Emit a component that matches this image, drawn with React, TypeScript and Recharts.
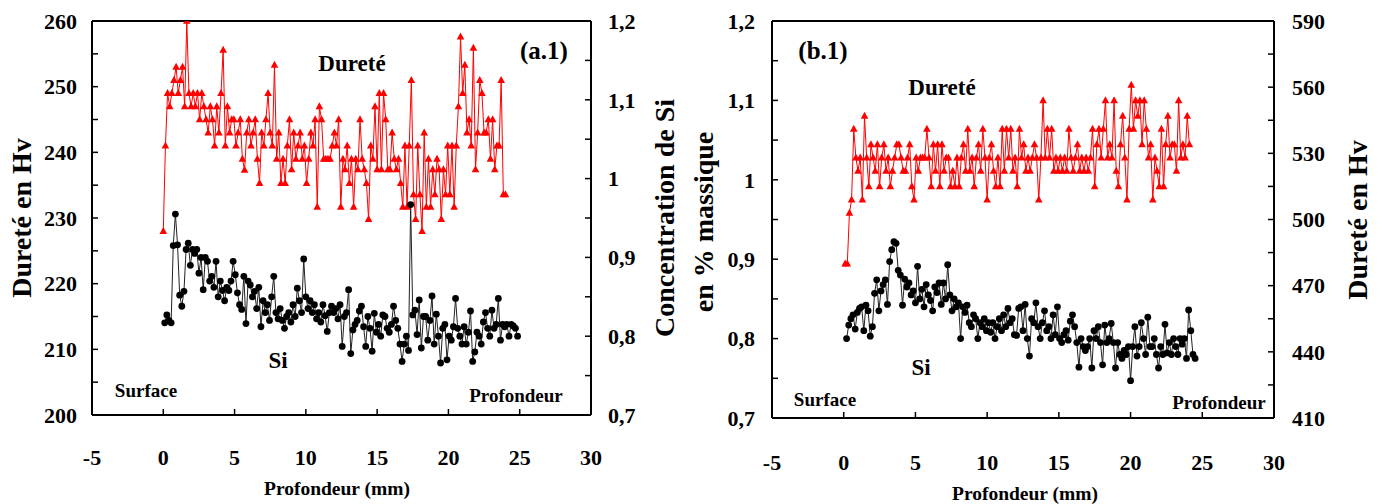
import React from 'react'
import { LineChart, Line, XAxis, YAxis, ReferenceLine } from 'recharts'

const FONT = '"Liberation Serif", "DejaVu Serif", serif'

// axis ticks
const depthTicks = [-5, 0, 5, 10, 15, 20, 25, 30]
const hvTicksA = [200, 205, 210, 215, 220, 225, 230, 235, 240, 245, 250, 255, 260]
const siTicks = [0.7, 0.75, 0.8, 0.85, 0.9, 0.95, 1, 1.05, 1.1, 1.15, 1.2]
const hvTicksB = [410, 425, 440, 455, 470, 485, 500, 515, 530, 545, 560, 575, 590]

// measurement step along the depth (mm)
const STEP = 0.15

// (a.1) hardness, Hv
const hvStartA = 0
const hvA = [228, 241, 249, 247, 249, 251, 253, 249, 251, 253, 247, 260, 249, 247, 249, 247, 249, 245, 249, 247, 245, 243, 247, 245, 241, 247, 243, 249, 255.6, 241, 247, 243, 245, 245, 241, 243, 245, 239, 237.3, 243, 245, 241, 243, 245, 239, 235.3, 243, 241, 245, 249, 243, 241, 253.3, 239, 243, 235.3, 239, 235.3, 241, 245, 237.4, 243, 239, 241, 243, 239, 241, 235.3, 239, 243, 241, 245, 231.7, 247, 245, 239, 239, 239, 239, 241, 243, 241, 245, 231.7, 239, 237.4, 241, 235.3, 239, 231.7, 239, 237.4, 245, 239, 237.4, 235.3, 229.8, 241, 239, 247, 237.4, 249, 237.4, 249, 245, 237.4, 237.4, 243, 239, 237.4, 239, 235.3, 231.7, 241, 231.7, 241, 251, 233.6, 229.8, 241, 233.6, 228, 243, 231.7, 239, 231.7, 237.4, 233.6, 239, 237.4, 229.8, 237.4, 233.6, 241, 233.6, 241, 231.7, 241, 247, 257.6, 249, 253.3, 243, 245, 241, 255.9, 237.4, 243, 251, 249, 243, 243, 245, 239, 245, 237.4, 241, 241, 251, 233.6, 233.6]

// (a.1) Si, % massique
const siStartA = 0.1
const siA = [0.817, 0.827, 0.82, 0.817, 0.915, 0.955, 0.916, 0.852, 0.838, 0.857, 0.91, 0.918, 0.89, 0.91, 0.905, 0.91, 0.88, 0.9, 0.859, 0.9, 0.895, 0.87, 0.876, 0.862, 0.895, 0.85, 0.87, 0.858, 0.845, 0.862, 0.858, 0.87, 0.895, 0.878, 0.855, 0.84, 0.834, 0.876, 0.816, 0.87, 0.865, 0.85, 0.857, 0.835, 0.862, 0.812, 0.845, 0.83, 0.84, 0.82, 0.85, 0.876, 0.83, 0.822, 0.835, 0.82, 0.81, 0.825, 0.83, 0.818, 0.84, 0.825, 0.861, 0.845, 0.83, 0.898, 0.85, 0.835, 0.845, 0.83, 0.84, 0.822, 0.83, 0.818, 0.84, 0.826, 0.806, 0.83, 0.838, 0.83, 0.835, 0.822, 0.84, 0.787, 0.825, 0.83, 0.859, 0.778, 0.808, 0.815, 0.82, 0.832, 0.838, 0.812, 0.787, 0.825, 0.81, 0.781, 0.829, 0.805, 0.815, 0.8, 0.827, 0.825, 0.81, 0.805, 0.815, 0.838, 0.82, 0.81, 0.79, 0.768, 0.79, 0.8, 0.782, 0.967, 0.827, 0.833, 0.802, 0.846, 0.785, 0.825, 0.825, 0.795, 0.82, 0.851, 0.79, 0.828, 0.8, 0.766, 0.81, 0.815, 0.77, 0.8, 0.795, 0.812, 0.848, 0.81, 0.8, 0.79, 0.812, 0.79, 0.805, 0.832, 0.768, 0.78, 0.805, 0.8, 0.79, 0.818, 0.83, 0.81, 0.8, 0.833, 0.81, 0.815, 0.848, 0.795, 0.815, 0.812, 0.815, 0.8, 0.815, 0.813, 0.81, 0.8]

// (b.1) hardness, Hv
const hvStartB = 0.1
const hvB = [480, 480, 503, 509, 541, 528, 522, 528, 509, 547, 528, 515, 534, 528, 522, 534, 515, 528, 534, 522, 528, 515, 522, 528, 534, 534, 528, 522, 522, 528, 534, 515, 509, 528, 522, 528, 528, 528, 541, 528, 515, 534, 522, 534, 515, 534, 522, 528, 528, 515, 522, 515, 528, 515, 528, 534, 522, 541, 522, 528, 515, 528, 534, 522, 541, 528, 509, 528, 534, 522, 515, 528, 515, 541, 522, 541, 528, 541, 522, 528, 515, 541, 528, 534, 522, 528, 522, 528, 534, 528, 509, 528, 554, 528, 541, 528, 541, 522, 528, 522, 528, 522, 528, 522, 541, 528, 522, 528, 534, 522, 528, 522, 528, 522, 528, 541, 515, 534, 541, 528, 541, 554, 528, 534, 528, 554, 522, 515, 534, 547, 528, 509, 541, 561, 541, 554, 547, 554, 534, 554, 541, 528, 534, 509, 528, 522, 515, 541, 515, 534, 547, 528, 534, 534, 522, 554, 528, 534, 528, 547, 534]

// (b.1) Si, % massique
const siStartB = 0.2
const siB = [0.8, 0.817, 0.825, 0.83, 0.812, 0.833, 0.838, 0.84, 0.81, 0.842, 0.835, 0.803, 0.815, 0.857, 0.874, 0.835, 0.86, 0.868, 0.874, 0.843, 0.897, 0.912, 0.922, 0.92, 0.886, 0.88, 0.842, 0.875, 0.865, 0.87, 0.855, 0.86, 0.845, 0.891, 0.85, 0.862, 0.84, 0.868, 0.855, 0.848, 0.835, 0.865, 0.858, 0.87, 0.843, 0.87, 0.85, 0.893, 0.855, 0.835, 0.85, 0.84, 0.845, 0.8, 0.84, 0.833, 0.842, 0.82, 0.815, 0.83, 0.825, 0.8, 0.82, 0.815, 0.825, 0.81, 0.82, 0.808, 0.82, 0.8, 0.815, 0.825, 0.81, 0.83, 0.815, 0.838, 0.82, 0.825, 0.805, 0.804, 0.838, 0.84, 0.81, 0.843, 0.8, 0.778, 0.825, 0.82, 0.845, 0.815, 0.8, 0.82, 0.835, 0.81, 0.815, 0.8, 0.83, 0.805, 0.84, 0.8, 0.795, 0.805, 0.81, 0.798, 0.822, 0.83, 0.815, 0.795, 0.764, 0.8, 0.79, 0.785, 0.79, 0.8, 0.763, 0.81, 0.8, 0.815, 0.795, 0.767, 0.817, 0.795, 0.8, 0.819, 0.795, 0.763, 0.795, 0.78, 0.775, 0.785, 0.78, 0.79, 0.747, 0.79, 0.815, 0.778, 0.79, 0.82, 0.8, 0.78, 0.827, 0.79, 0.79, 0.8, 0.78, 0.763, 0.79, 0.78, 0.818, 0.782, 0.795, 0.78, 0.8, 0.79, 0.78, 0.8, 0.793, 0.8, 0.775, 0.836, 0.81, 0.78, 0.775]

const toRows = (start: number, values: number[]) =>
  values.map((v, i) => ({ x: +(start + i * STEP).toFixed(3), y: v }))

const rowsHvA = toRows(hvStartA, hvA)
const rowsSiA = toRows(siStartA, siA)
const rowsHvB = toRows(hvStartB, hvB)
const rowsSiB = toRows(siStartB, siB)

const tickFont = { fill: '#000', fontSize: 22, fontWeight: 700, fontFamily: FONT }
const axisLine = { stroke: '#000', strokeWidth: 2 }
const tickLine = { stroke: '#000', strokeWidth: 1.5 }

const fmtSi = (v: number) => {
  const c = Math.round(v * 100)
  return c % 10 === 0 ? String(c / 100).replace('.', ',') : ''
}
const fmtHvA = (v: number) => (v % 10 === 0 ? String(v) : '')
const fmtHvB = (v: number) => ((v - 410) % 30 === 0 ? String(v) : '')

const Triangle = (props: any) => {
  const { cx, cy, index } = props
  if (cx == null || cy == null) return <g key={index} />
  return (
    <polygon
      key={index}
      points={`${cx},${cy - 4.2} ${cx - 3.8},${cy + 2.8} ${cx + 3.8},${cy + 2.8}`}
      fill="#ff0000"
    />
  )
}

const blackDot = { r: 3.4, fill: '#000', stroke: '#000', strokeWidth: 0 }

function Title({ x, y, size, rotate, children }: any) {
  return (
    <text
      x={x}
      y={y}
      textAnchor="middle"
      dominantBaseline="central"
      fontFamily={FONT}
      fontWeight={700}
      fontSize={size}
      fill="#000"
      transform={rotate ? `rotate(-90 ${x} ${y})` : undefined}
    >
      {children}
    </text>
  )
}

export default function App() {
  return (
    <div style={{ position: 'absolute', left: 0, top: 0, width: 1383, height: 504, background: '#fff' }}>
      {/* (a.1) */}
      <div style={{ position: 'absolute', left: 0, top: 0 }}>
        <LineChart width={700} height={504} margin={{ top: 21, right: 0, bottom: 0, left: 0 }}>
          <XAxis
            type="number"
            dataKey="x"
            domain={[-5, 30]}
            ticks={depthTicks}
            interval={0}
            height={89}
            allowDataOverflow
            axisLine={axisLine}
            tickLine={tickLine}
            tickSize={-6}
            tickMargin={40}
            tick={tickFont}
          />
          <YAxis
            yAxisId="hv"
            orientation="left"
            width={92}
            domain={[200, 260]}
            ticks={hvTicksA}
            interval={0}
            allowDataOverflow
            axisLine={axisLine}
            tickLine={tickLine}
            tickSize={-6}
            tickMargin={21}
            tick={tickFont}
            tickFormatter={fmtHvA}
          />
          <YAxis
            yAxisId="si"
            orientation="right"
            width={109}
            domain={[0.7, 1.2]}
            ticks={siTicks}
            interval={0}
            allowDataOverflow
            axisLine={axisLine}
            tickLine={tickLine}
            tickSize={-6}
            tickMargin={23}
            tick={tickFont}
            tickFormatter={fmtSi}
          />
          <ReferenceLine yAxisId="hv" y={260} stroke="#000" strokeWidth={2} />
          <Line
            yAxisId="hv"
            data={rowsHvA}
            dataKey="y"
            stroke="#ff0000"
            strokeWidth={1}
            dot={Triangle}
            isAnimationActive={false}
          />
          <Line
            yAxisId="si"
            data={rowsSiA}
            dataKey="y"
            stroke="#222"
            strokeWidth={1}
            dot={blackDot}
            isAnimationActive={false}
          />
        </LineChart>
      </div>

      {/* (b.1) */}
      <div style={{ position: 'absolute', left: 700, top: 0 }}>
        <LineChart width={683} height={504} margin={{ top: 21, right: 0, bottom: 0, left: 0 }}>
          <XAxis
            type="number"
            dataKey="x"
            domain={[-5, 30]}
            ticks={depthTicks}
            interval={0}
            height={86}
            allowDataOverflow
            axisLine={axisLine}
            tickLine={tickLine}
            tickSize={-6}
            tickMargin={42}
            tick={tickFont}
          />
          <YAxis
            yAxisId="si"
            orientation="left"
            width={72}
            domain={[0.7, 1.2]}
            ticks={siTicks}
            interval={0}
            allowDataOverflow
            axisLine={axisLine}
            tickLine={tickLine}
            tickSize={-6}
            tickMargin={23}
            tick={tickFont}
            tickFormatter={fmtSi}
          />
          <YAxis
            yAxisId="hv"
            orientation="right"
            width={109}
            domain={[410, 590]}
            ticks={hvTicksB}
            interval={0}
            allowDataOverflow
            axisLine={axisLine}
            tickLine={tickLine}
            tickSize={-6}
            tickMargin={24}
            tick={tickFont}
            tickFormatter={fmtHvB}
          />
          <ReferenceLine yAxisId="si" y={1.2} stroke="#000" strokeWidth={2} />
          <Line
            yAxisId="hv"
            data={rowsHvB}
            dataKey="y"
            stroke="#ff0000"
            strokeWidth={1}
            dot={Triangle}
            isAnimationActive={false}
          />
          <Line
            yAxisId="si"
            data={rowsSiB}
            dataKey="y"
            stroke="#222"
            strokeWidth={1}
            dot={blackDot}
            isAnimationActive={false}
          />
        </LineChart>
      </div>

      {/* titles and annotations */}
      <svg width={1383} height={504} style={{ position: 'absolute', left: 0, top: 0, pointerEvents: 'none' }}>
        <Title x={21} y={218} size={28} rotate>Dureté en Hv</Title>
        <Title x={664} y={218} size={28} rotate>Concentration de Si</Title>
        <Title x={703} y={222} size={28} rotate>en % massique</Title>
        <Title x={1357} y={220} size={28} rotate>Dureté en Hv</Title>

        <Title x={337} y={488} size={19.5}>Profondeur (mm)</Title>
        <Title x={1025} y={493} size={19.5}>Profondeur (mm)</Title>

        <Title x={544} y={50} size={25}>(a.1)</Title>
        <Title x={352} y={63} size={23}>Dureté</Title>
        <Title x={278} y={360} size={23}>Si</Title>
        <Title x={146} y={390} size={19}>Surface</Title>
        <Title x={516} y={395} size={19}>Profondeur</Title>

        <Title x={823} y={50} size={25}>(b.1)</Title>
        <Title x={942} y={87} size={23}>Dureté</Title>
        <Title x={921} y={367} size={23}>Si</Title>
        <Title x={825} y={399} size={19}>Surface</Title>
        <Title x={1219} y={402} size={19}>Profondeur</Title>
      </svg>
    </div>
  )
}
